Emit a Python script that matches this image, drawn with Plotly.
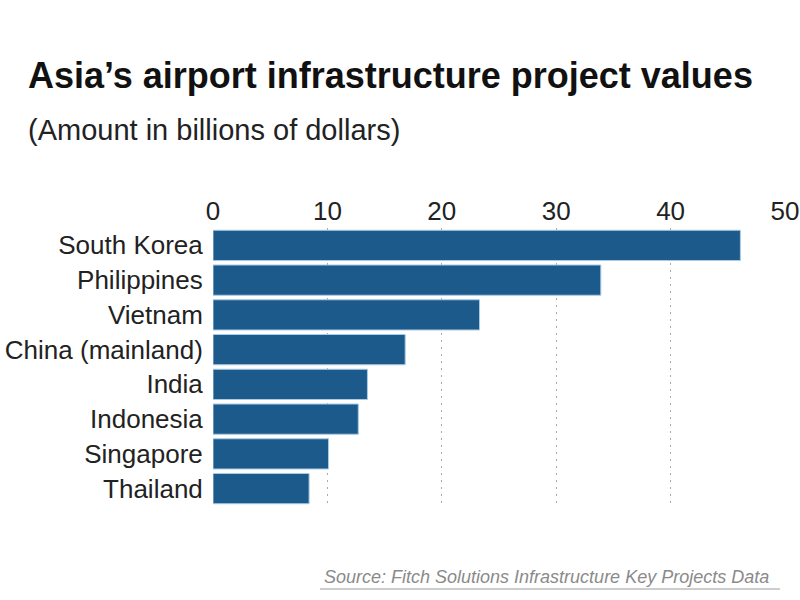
import plotly.graph_objects as go

countries = ["South Korea", "Philippines", "Vietnam", "China (mainland)",
             "India", "Indonesia", "Singapore", "Thailand"]
values = [46.1, 33.9, 23.3, 16.8, 13.5, 12.7, 10.1, 8.4]
tick_vals = [0, 10, 20, 30, 40, 50]

title = "Asia’s airport infrastructure project values"
subtitle = "(Amount in billions of dollars)"
source = "Source: Fitch Solutions Infrastructure Key Projects Data"

FONT = "Liberation Sans, Arial, sans-serif"

fig = go.Figure(go.Bar(
    x=values, y=countries, orientation="h",
    marker=dict(color="#1c5a8c", line=dict(color="#a9cbe3", width=1)),
))

fig.update_layout(
    width=800, height=600,
    margin=dict(l=213, r=15, t=228, b=94, autoexpand=False),
    paper_bgcolor="white", plot_bgcolor="white",
    bargap=0.13,
    showlegend=False,
    font=dict(family=FONT, color="#222"),
    xaxis=dict(
        side="top", range=[0, 50], tickvals=tick_vals, automargin=False,
        showgrid=True, gridcolor="#a8a8a8", griddash="2px,5px", gridwidth=1,
        zeroline=False, showline=False,
        ticks="", ticklabelstandoff=2,
        tickfont=dict(size=26, color="#222"),
    ),
    yaxis=dict(
        autorange="reversed", showgrid=False, zeroline=False, showline=False,
        automargin=False,
        ticks="outside", ticklen=4, tickcolor="rgba(0,0,0,0)",
        tickfont=dict(size=26, color="#222"),
    ),
    annotations=[
        dict(text="<b>" + title + "</b>", xref="paper", yref="paper",
             x=-0.327, y=1.547, xanchor="left", yanchor="middle",
             showarrow=False, font=dict(size=36, color="#111", family=FONT)),
        dict(text=subtitle, xref="paper", yref="paper",
             x=-0.327, y=1.353, xanchor="left", yanchor="middle",
             showarrow=False, font=dict(size=29, color="#222", family=FONT)),
        dict(text="<i>" + source + "</i>", xref="paper", yref="paper",
             x=0.1906, y=-0.255, xanchor="left", yanchor="middle",
             showarrow=False, font=dict(size=18, color="#8a8a8a", family=FONT)),
    ],
    shapes=[
        dict(type="line", xref="paper", yref="paper",
             x0=0.187, x1=0.991, y0=-0.2986, y1=-0.2986,
             line=dict(color="#9a9a9a", width=1)),
    ],
)

fig.write_html("out.html",
               config={"displayModeBar": False},
               post_script="document.body.style.margin='0';document.body.style.overflow='hidden';")
